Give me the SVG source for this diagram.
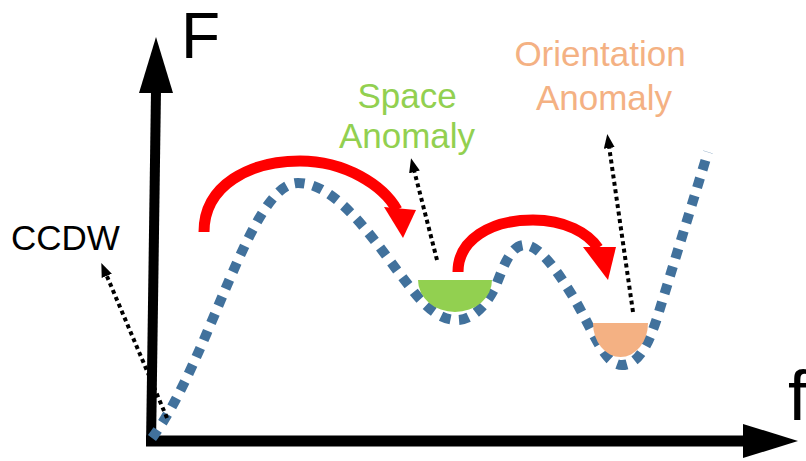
<svg xmlns="http://www.w3.org/2000/svg" width="806" height="461" viewBox="0 0 806 461">
  <defs>
    <style>
      .lbl { font-family: "Liberation Sans", Arial, sans-serif; }
      .axis { stroke: #000; stroke-width: 10; fill: none; }
      .curve { stroke: #41719C; stroke-width: 10; fill: none; stroke-dasharray: 10 8.5; }
      .jump { stroke: #FF0000; stroke-width: 11; fill: none; }
      .jumphead { fill: #FF0000; }
      .ptr { stroke: #000; stroke-width: 4; fill: none; stroke-dasharray: 4 3.5; marker-end: url(#ah); }
    </style>
    <marker id="ah" viewBox="0 0 14 11" refX="2" refY="5.5" markerWidth="14" markerHeight="11" markerUnits="userSpaceOnUse" orient="auto">
      <path d="M0,0 L14,5.5 L0,11 Z" fill="#000"/>
    </marker>
  </defs>
  <rect width="806" height="461" fill="#fff"/>

  <g id="axes">
    <path class="axis" d="M151,446 L156,90"/>
    <polygon points="139,93 156,37 173,93" fill="#000"/>
    <path class="axis" d="M146,441 L746,441" style="stroke-width:11"/>
    <polygon points="743,424 798,441 743,458" fill="#000"/>
    <text class="lbl" x="181" y="58" font-size="64">F</text>
    <text class="lbl" x="788" y="420" font-size="70">f</text>
  </g>

  <g id="energy-curve">
    <path class="curve" d="M152,438 C210,360 250,183 298,183 C340,183 380,250 410,287 C425,307 440,320 457,320 C475,320 490,300 497,283 C505,262 512,245 525,245 C540,245 560,275 575,300 C595,335 605,365 622,365 C640,365 650,340 658,315 L708,152"/>
  </g>

  <g id="space-anomaly">
    <path d="M418,280 L492,280 A37,32 0 0 1 418,280 Z" fill="#92D050"/>
    <text class="lbl" x="407" y="108" font-size="35" fill="#92D050" text-anchor="middle">Space</text>
    <text class="lbl" x="407" y="148" font-size="35" fill="#92D050" text-anchor="middle">Anomaly</text>
  </g>

  <g id="orientation-anomaly">
    <path d="M593,323 L648,323 A27.5,34 0 0 1 593,323 Z" fill="#F4B183"/>
    <text class="lbl" x="600" y="66" font-size="35" fill="#F4B183" text-anchor="middle">Orientation</text>
    <text class="lbl" x="604" y="110" font-size="35" fill="#F4B183" text-anchor="middle">Anomaly</text>
  </g>

  <g id="ccdw">
    <text class="lbl" x="11" y="250" font-size="35" fill="#000">CCDW</text>
  </g>

  <g id="connectors">
    <path class="jump" d="M204,232 C204,185 250,161 300,161 C345,161 383,185 397,210"/>
    <polygon class="jumphead" points="384,207 416,210 403,238"/>
    <path class="jump" d="M458,272 C458,240 490,220 533,220 C565,220 588,233 598,248"/>
    <polygon class="jumphead" points="583,247 616,247 608,280"/>
    <path class="ptr" d="M167,418 L106,274"/>
    <path class="ptr" d="M437,260 L414,170"/>
    <path class="ptr" d="M633,312 L609,146"/>
  </g>
</svg>
